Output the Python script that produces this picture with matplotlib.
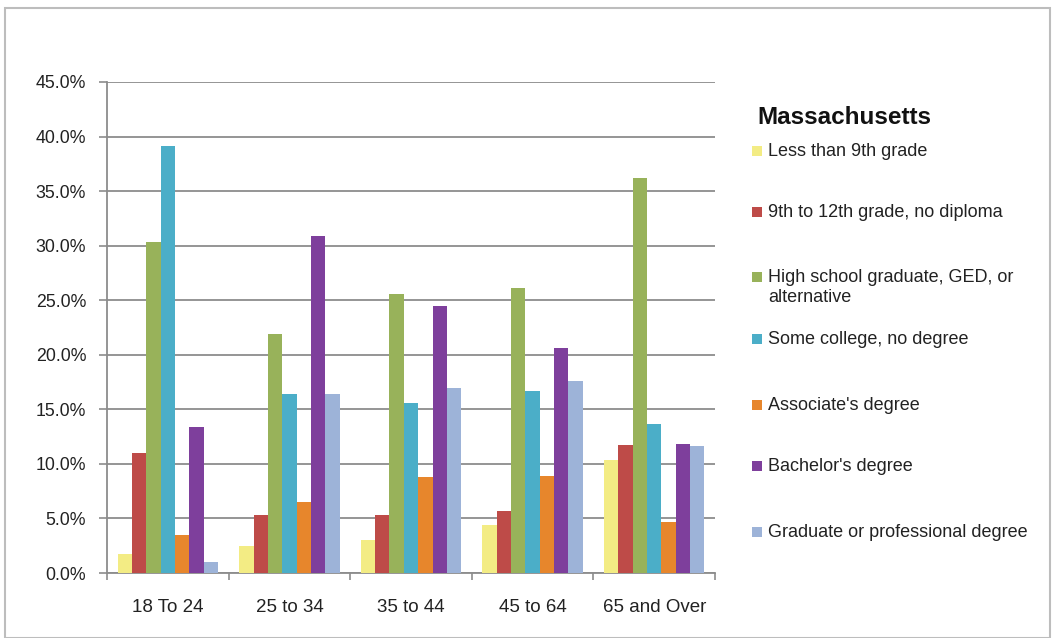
import matplotlib
matplotlib.use("Agg")
import matplotlib.pyplot as plt
from matplotlib.patches import Rectangle
from matplotlib.ticker import PercentFormatter, FixedLocator
import numpy as np

plt.rcParams['font.family'] = ['Liberation Sans', 'DejaVu Sans']

categories = ["18 To 24", "25 to 34", "35 to 44", "45 to 64", "65 and Over"]
series_names = [
    "Less than 9th grade",
    "9th to 12th grade, no diploma",
    "High school graduate, GED, or\nalternative",
    "Some college, no degree",
    "Associate's degree",
    "Bachelor's degree",
    "Graduate or professional degree",
]
less_than_9th = [1.7, 2.5, 3.0, 4.4, 10.4]
grade_9_to_12 = [11.0, 5.3, 5.3, 5.7, 11.7]
high_school = [30.3, 21.9, 25.6, 26.1, 36.2]
some_college = [39.1, 16.4, 15.6, 16.7, 13.7]
associates = [3.5, 6.5, 8.8, 8.9, 4.7]
bachelors = [13.4, 30.9, 24.5, 20.6, 11.8]
graduate = [1.0, 16.4, 17.0, 17.6, 11.6]
values = [less_than_9th, grade_9_to_12, high_school, some_college,
          associates, bachelors, graduate]
colors = ['#F3EC84', '#BE4B48', '#98B25A', '#4BAEC8', '#E7862C', '#7E3F9C', '#9DB3D8']

W, H = 1055, 638
fig = plt.figure(figsize=(W / 100, H / 100), dpi=100)
fig.patches.append(Rectangle((5 / W, 0), 1045 / W, 1 - 8 / H, transform=fig.transFigure,
                             fill=False, edgecolor='#BDBDBD', linewidth=1.5))

ax = fig.add_axes([107 / W, 1 - 573 / H, (715 - 107) / W, (573 - 82) / H])
x = np.arange(len(categories))
bw = 0.118
n = len(values)
for i, (vals, c) in enumerate(zip(values, colors)):
    ax.bar(x + (i - (n - 1) / 2) * bw, vals, width=bw, color=c, edgecolor='none', zorder=3)

ax.set_xlim(-0.5, len(categories) - 0.5)
ax.set_ylim(0, 45)
ax.set_yticks(np.arange(0, 45.1, 5))
ax.yaxis.set_major_formatter(PercentFormatter(decimals=1))
ax.grid(axis='y', color='#8C8C8C', linewidth=1.3, zorder=0)
ax.set_xticks(x)
ax.set_xticklabels(categories)
ax.xaxis.set_minor_locator(FixedLocator(np.arange(-0.5, len(categories), 1)))
ax.tick_params(axis='x', which='major', length=0, pad=19, labelsize=13.5, colors='#222222')
ax.tick_params(axis='x', which='minor', length=5, color='#8C8C8C', width=1.2)
ax.tick_params(axis='y', length=6, color='#8C8C8C', width=1.2, labelsize=12.8,
               labelcolor='#222222', pad=9)
for s in ['top', 'right']:
    ax.spines[s].set_visible(False)
for s in ['left', 'bottom']:
    ax.spines[s].set_color('#8C8C8C')
    ax.spines[s].set_linewidth(1.3)

# legend (manual, in pixel positions)
fig.text(757 / W, 1 - 117 / H, "Massachusetts", fontsize=17.5, fontweight='bold',
         va='center', ha='left', color='#111111')
ys = [152, 213, 278, 340, 406, 467, 533]
for name, c, yy in zip(series_names, colors, ys):
    fig.patches.append(Rectangle((752 / W, 1 - (yy + 4) / H), 10 / W, 10 / H,
                                 transform=fig.transFigure, facecolor=c, edgecolor='none'))
    fig.text(768 / W, 1 - (yy - 9) / H, name, fontsize=13, va='top', ha='left',
             color='#222222', linespacing=1.25)

fig.savefig("out.png", dpi=100)
